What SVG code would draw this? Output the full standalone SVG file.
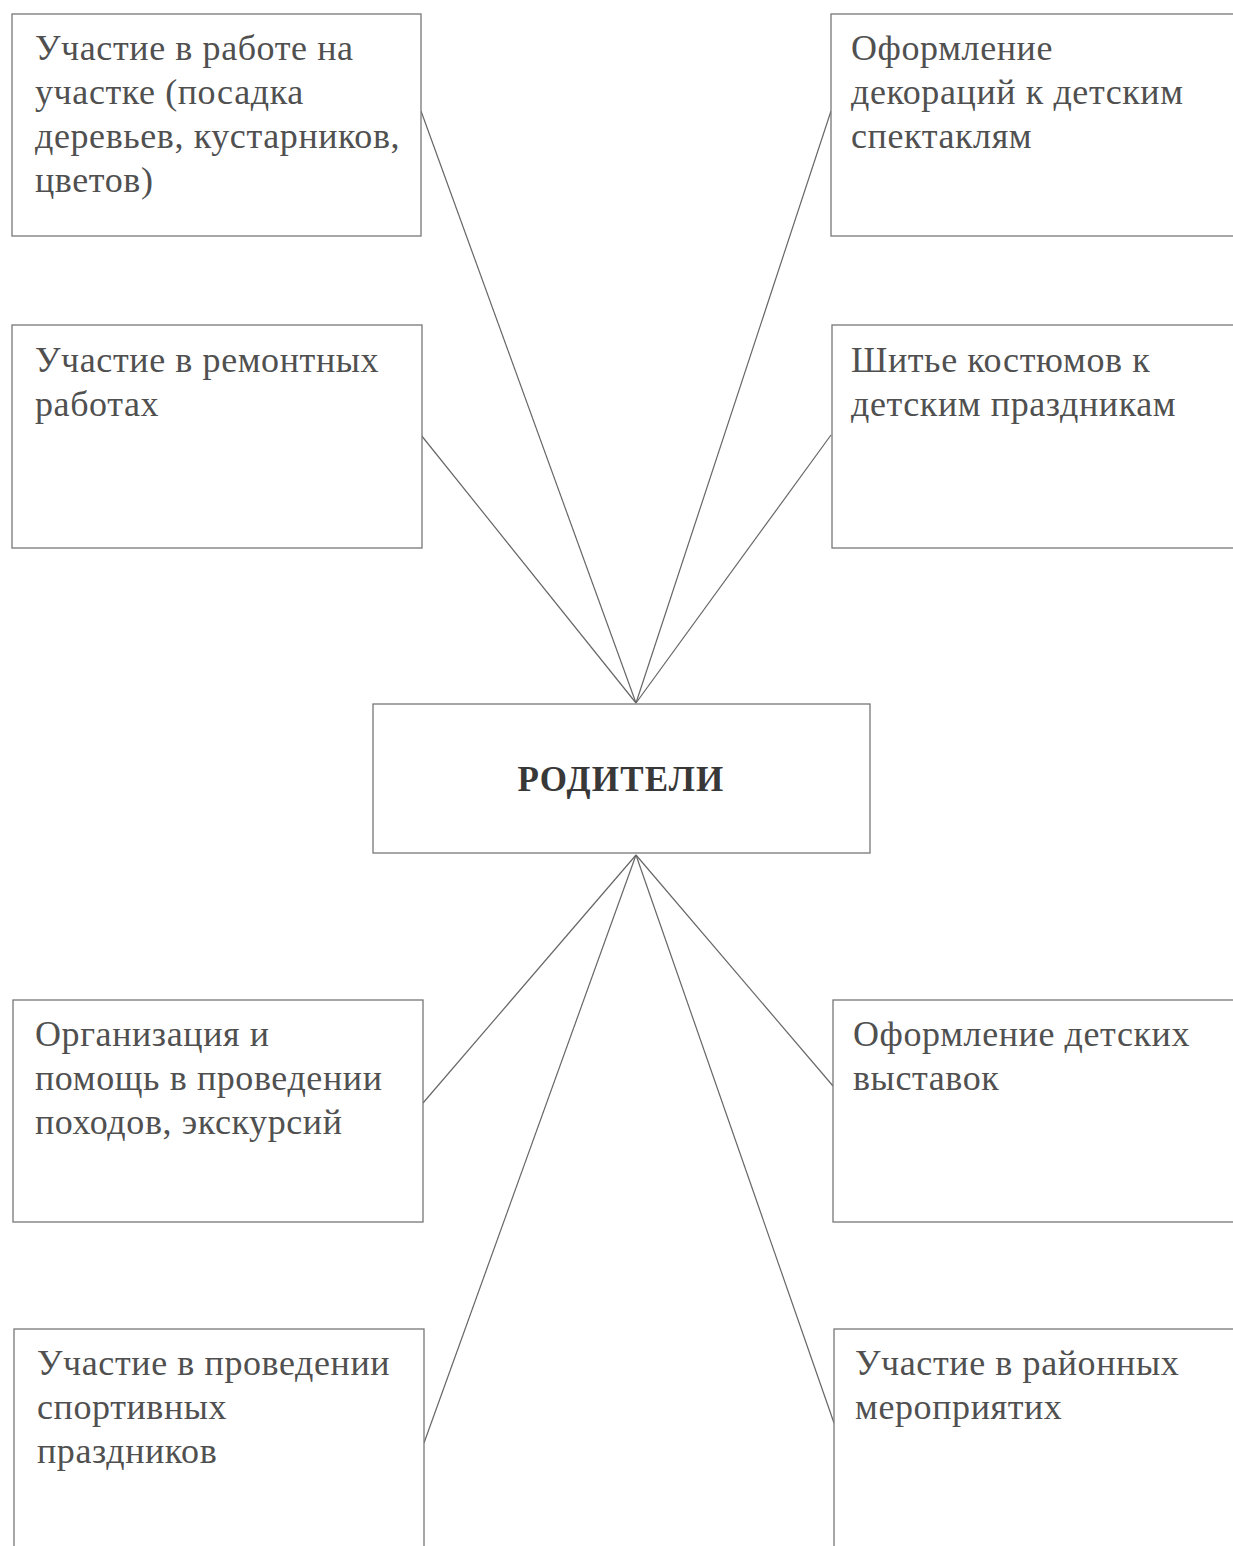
<svg xmlns="http://www.w3.org/2000/svg" width="1233" height="1546" viewBox="0 0 1233 1546">
<style>
.box{fill:#fff;stroke:#777;stroke-width:1.3}
.t{font-family:"Liberation Serif","Times New Roman",serif;font-size:36px;fill:#505050;letter-spacing:0.6px}
.b{font-family:"Liberation Serif","Times New Roman",serif;font-size:35px;font-weight:bold;fill:#383838;text-anchor:middle;letter-spacing:1.2px}
.c{stroke:#666;stroke-width:1.2;fill:none}
</style>
<rect width="1233" height="1546" fill="#fff"/>
<g id="connectors">
<line class="c" x1="421" y1="111" x2="636" y2="703"/>
<line class="c" x1="831" y1="111" x2="636" y2="703"/>
<line class="c" x1="421" y1="435" x2="636" y2="703"/>
<line class="c" x1="831" y1="435" x2="636" y2="703"/>
<line class="c" x1="423" y1="1103" x2="636" y2="855"/>
<line class="c" x1="833" y1="1086" x2="636" y2="855"/>
<line class="c" x1="424" y1="1443" x2="636" y2="855"/>
<line class="c" x1="834" y1="1423" x2="636" y2="855"/>
</g>
<g id="n1"><rect class="box" x="12" y="14" width="409" height="222"/>
<text class="t"><tspan x="35" y="60">Участие в работе на</tspan><tspan x="35" y="104">участке (посадка</tspan><tspan x="35" y="148">деревьев, кустарников,</tspan><tspan x="35" y="192">цветов)</tspan></text></g>
<g id="n2"><rect class="box" x="831" y="14" width="420" height="222"/>
<text class="t"><tspan x="851" y="60">Оформление</tspan><tspan x="851" y="104">декораций к детским</tspan><tspan x="851" y="148">спектаклям</tspan></text></g>
<g id="n3"><rect class="box" x="12" y="325" width="410" height="223"/>
<text class="t"><tspan x="35" y="372">Участие в ремонтных</tspan><tspan x="35" y="416">работах</tspan></text></g>
<g id="n4"><rect class="box" x="832" y="325" width="420" height="223"/>
<text class="t"><tspan x="851" y="372">Шитье костюмов к</tspan><tspan x="851" y="416">детским праздникам</tspan></text></g>
<g id="center"><rect class="box" x="373" y="704" width="497" height="149"/>
<text class="b" x="621" y="791">РОДИТЕЛИ</text></g>
<g id="n5"><rect class="box" x="13" y="1000" width="410" height="222"/>
<text class="t"><tspan x="35" y="1046">Организация и</tspan><tspan x="35" y="1090">помощь в проведении</tspan><tspan x="35" y="1134">походов, экскурсий</tspan></text></g>
<g id="n6"><rect class="box" x="833" y="1000" width="420" height="222"/>
<text class="t"><tspan x="853" y="1046">Оформление детских</tspan><tspan x="853" y="1090">выставок</tspan></text></g>
<g id="n7"><rect class="box" x="14" y="1329" width="410" height="240"/>
<text class="t"><tspan x="37" y="1375">Участие в проведении</tspan><tspan x="37" y="1419">спортивных</tspan><tspan x="37" y="1463">праздников</tspan></text></g>
<g id="n8"><rect class="box" x="834" y="1329" width="420" height="240"/>
<text class="t"><tspan x="855" y="1375">Участие в районных</tspan><tspan x="855" y="1419">мероприятих</tspan></text></g>
</svg>
